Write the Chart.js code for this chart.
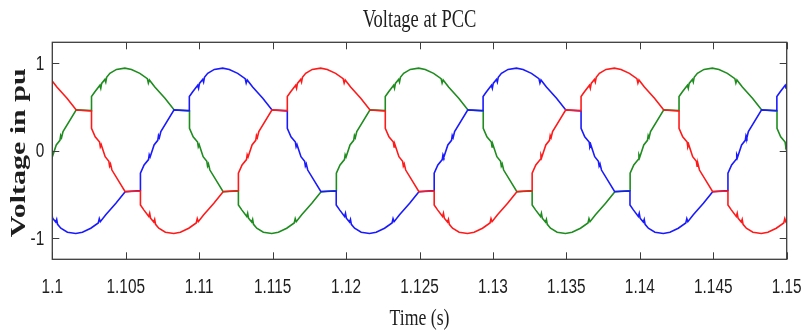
<!DOCTYPE html>
<html>
<head>
<meta charset="utf-8">
<script src="https://cdn.jsdelivr.net/npm/chart.js@4.4.0/dist/chart.umd.min.js"></script>
<style>
  body { margin: 0; background: #fff; }
</style>
</head>
<body>
<canvas id="chart" width="805" height="334"></canvas>
<script>
// tick labels
const xTicks = [1.1, 1.105, 1.11, 1.115, 1.12, 1.125, 1.13, 1.135, 1.14, 1.145, 1.15]
const yTicks = [-1, 0, 1]

// phase a (red), one row per half cycle
const redT = [
  1.09980, 1.09987, 1.09994, 1.10031, 1.10100, 1.10163, 1.10267, 1.10267, 1.10292, 1.10322, 1.10327, 1.10333, 1.10360, 1.10385, 1.10390, 1.10396, 1.10406, 1.10496, 1.10600,
  1.10600, 1.10623, 1.10657, 1.10663, 1.10669, 1.10691, 1.10697, 1.10703, 1.10725, 1.10770, 1.10827, 1.10872, 1.10929, 1.10980, 1.10987, 1.10994, 1.11031, 1.11100, 1.11163, 1.11267, 1.11267, 1.11292, 1.11322, 1.11327, 1.11333, 1.11360, 1.11385, 1.11390, 1.11396, 1.11406, 1.11496, 1.11600,
  1.11600, 1.11623, 1.11657, 1.11663, 1.11669, 1.11691, 1.11697, 1.11703, 1.11725, 1.11770, 1.11827, 1.11872, 1.11929, 1.11980, 1.11987, 1.11994, 1.12031, 1.12100, 1.12163, 1.12267, 1.12267, 1.12292, 1.12322, 1.12327, 1.12333, 1.12360, 1.12385, 1.12390, 1.12396, 1.12406, 1.12496, 1.12600,
  1.12600, 1.12623, 1.12657, 1.12663, 1.12669, 1.12691, 1.12697, 1.12703, 1.12725, 1.12770, 1.12827, 1.12872, 1.12929, 1.12980, 1.12987, 1.12994, 1.13031, 1.13100, 1.13163, 1.13267, 1.13267, 1.13292, 1.13322, 1.13327, 1.13333, 1.13360, 1.13385, 1.13390, 1.13396, 1.13406, 1.13496, 1.13600,
  1.13600, 1.13623, 1.13657, 1.13663, 1.13669, 1.13691, 1.13697, 1.13703, 1.13725, 1.13770, 1.13827, 1.13872, 1.13929, 1.13980, 1.13987, 1.13994, 1.14031, 1.14100, 1.14163, 1.14267, 1.14267, 1.14292, 1.14322, 1.14327, 1.14333, 1.14360, 1.14385, 1.14390, 1.14396, 1.14406, 1.14496, 1.14600,
  1.14600, 1.14623, 1.14657, 1.14663, 1.14669, 1.14691, 1.14697, 1.14703, 1.14725, 1.14770, 1.14827, 1.14872, 1.14929, 1.14980, 1.14987, 1.14994, 1.15031
]
const redV = [
  0.825, 0.775, 0.81, 0.73, 0.60, 0.467, 0.455, 0.257, 0.161, 0.10, 0.045, 0.07, -0.067, -0.12, -0.175, -0.15, -0.22, -0.467, -0.46,
  -0.62, -0.675, -0.75, -0.715, -0.77, -0.815, -0.785, -0.84, -0.885, -0.93, -0.945, -0.93, -0.885, -0.825, -0.775, -0.81, -0.73, -0.60, -0.467, -0.455, -0.257, -0.161, -0.10, -0.045, -0.07, 0.067, 0.12, 0.175, 0.15, 0.22, 0.467, 0.46,
  0.62, 0.675, 0.75, 0.715, 0.77, 0.815, 0.785, 0.84, 0.885, 0.93, 0.945, 0.93, 0.885, 0.825, 0.775, 0.81, 0.73, 0.60, 0.467, 0.455, 0.257, 0.161, 0.10, 0.045, 0.07, -0.067, -0.12, -0.175, -0.15, -0.22, -0.467, -0.46,
  -0.62, -0.675, -0.75, -0.715, -0.77, -0.815, -0.785, -0.84, -0.885, -0.93, -0.945, -0.93, -0.885, -0.825, -0.775, -0.81, -0.73, -0.60, -0.467, -0.455, -0.257, -0.161, -0.10, -0.045, -0.07, 0.067, 0.12, 0.175, 0.15, 0.22, 0.467, 0.46,
  0.62, 0.675, 0.75, 0.715, 0.77, 0.815, 0.785, 0.84, 0.885, 0.93, 0.945, 0.93, 0.885, 0.825, 0.775, 0.81, 0.73, 0.60, 0.467, 0.455, 0.257, 0.161, 0.10, 0.045, 0.07, -0.067, -0.12, -0.175, -0.15, -0.22, -0.467, -0.46,
  -0.62, -0.675, -0.75, -0.715, -0.77, -0.815, -0.785, -0.84, -0.885, -0.93, -0.945, -0.93, -0.885, -0.825, -0.775, -0.81, -0.73
]

// phase b (green)
const greenT = [
  1.09934, 1.09959, 1.09989, 1.09994, 1.10000, 1.10027, 1.10052, 1.10057, 1.10063, 1.10073, 1.10163, 1.10267,
  1.10267, 1.10290, 1.10324, 1.10330, 1.10336, 1.10358, 1.10364, 1.10370, 1.10392, 1.10437, 1.10494, 1.10539, 1.10596, 1.10647, 1.10654, 1.10661, 1.10698, 1.10767, 1.10830, 1.10934, 1.10934, 1.10959, 1.10989, 1.10994, 1.11000, 1.11027, 1.11052, 1.11057, 1.11063, 1.11073, 1.11163, 1.11267,
  1.11267, 1.11290, 1.11324, 1.11330, 1.11336, 1.11358, 1.11364, 1.11370, 1.11392, 1.11437, 1.11494, 1.11539, 1.11596, 1.11647, 1.11654, 1.11661, 1.11698, 1.11767, 1.11830, 1.11934, 1.11934, 1.11959, 1.11989, 1.11994, 1.12000, 1.12027, 1.12052, 1.12057, 1.12063, 1.12073, 1.12163, 1.12267,
  1.12267, 1.12290, 1.12324, 1.12330, 1.12336, 1.12358, 1.12364, 1.12370, 1.12392, 1.12437, 1.12494, 1.12539, 1.12596, 1.12647, 1.12654, 1.12661, 1.12698, 1.12767, 1.12830, 1.12934, 1.12934, 1.12959, 1.12989, 1.12994, 1.13000, 1.13027, 1.13052, 1.13057, 1.13063, 1.13073, 1.13163, 1.13267,
  1.13267, 1.13290, 1.13324, 1.13330, 1.13336, 1.13358, 1.13364, 1.13370, 1.13392, 1.13437, 1.13494, 1.13539, 1.13596, 1.13647, 1.13654, 1.13661, 1.13698, 1.13767, 1.13830, 1.13934, 1.13934, 1.13959, 1.13989, 1.13994, 1.14000, 1.14027, 1.14052, 1.14057, 1.14063, 1.14073, 1.14163, 1.14267,
  1.14267, 1.14290, 1.14324, 1.14330, 1.14336, 1.14358, 1.14364, 1.14370, 1.14392, 1.14437, 1.14494, 1.14539, 1.14596, 1.14647, 1.14654, 1.14661, 1.14698, 1.14767, 1.14830, 1.14934, 1.14934, 1.14959, 1.14989, 1.14994, 1.15000, 1.15027, 1.15052
]
const greenV = [
  -0.257, -0.161, -0.10, -0.045, -0.07, 0.067, 0.12, 0.175, 0.15, 0.22, 0.467, 0.46,
  0.62, 0.675, 0.75, 0.715, 0.77, 0.815, 0.785, 0.84, 0.885, 0.93, 0.945, 0.93, 0.885, 0.825, 0.775, 0.81, 0.73, 0.60, 0.467, 0.455, 0.257, 0.161, 0.10, 0.045, 0.07, -0.067, -0.12, -0.175, -0.15, -0.22, -0.467, -0.46,
  -0.62, -0.675, -0.75, -0.715, -0.77, -0.815, -0.785, -0.84, -0.885, -0.93, -0.945, -0.93, -0.885, -0.825, -0.775, -0.81, -0.73, -0.60, -0.467, -0.455, -0.257, -0.161, -0.10, -0.045, -0.07, 0.067, 0.12, 0.175, 0.15, 0.22, 0.467, 0.46,
  0.62, 0.675, 0.75, 0.715, 0.77, 0.815, 0.785, 0.84, 0.885, 0.93, 0.945, 0.93, 0.885, 0.825, 0.775, 0.81, 0.73, 0.60, 0.467, 0.455, 0.257, 0.161, 0.10, 0.045, 0.07, -0.067, -0.12, -0.175, -0.15, -0.22, -0.467, -0.46,
  -0.62, -0.675, -0.75, -0.715, -0.77, -0.815, -0.785, -0.84, -0.885, -0.93, -0.945, -0.93, -0.885, -0.825, -0.775, -0.81, -0.73, -0.60, -0.467, -0.455, -0.257, -0.161, -0.10, -0.045, -0.07, 0.067, 0.12, 0.175, 0.15, 0.22, 0.467, 0.46,
  0.62, 0.675, 0.75, 0.715, 0.77, 0.815, 0.785, 0.84, 0.885, 0.93, 0.945, 0.93, 0.885, 0.825, 0.775, 0.81, 0.73, 0.60, 0.467, 0.455, 0.257, 0.161, 0.10, 0.045, 0.07, -0.067, -0.12
]

// phase c (blue)
const blueT = [
  1.09956, 1.09990, 1.09996, 1.10002, 1.10024, 1.10030, 1.10036, 1.10058, 1.10103, 1.10160, 1.10205, 1.10262, 1.10313, 1.10320, 1.10327, 1.10364, 1.10433, 1.10496, 1.10600, 1.10600, 1.10625, 1.10655, 1.10660, 1.10666, 1.10693, 1.10718, 1.10723, 1.10729, 1.10739, 1.10829, 1.10933,
  1.10933, 1.10956, 1.10990, 1.10996, 1.11002, 1.11024, 1.11030, 1.11036, 1.11058, 1.11103, 1.11160, 1.11205, 1.11262, 1.11313, 1.11320, 1.11327, 1.11364, 1.11433, 1.11496, 1.11600, 1.11600, 1.11625, 1.11655, 1.11660, 1.11666, 1.11693, 1.11718, 1.11723, 1.11729, 1.11739, 1.11829, 1.11933,
  1.11933, 1.11956, 1.11990, 1.11996, 1.12002, 1.12024, 1.12030, 1.12036, 1.12058, 1.12103, 1.12160, 1.12205, 1.12262, 1.12313, 1.12320, 1.12327, 1.12364, 1.12433, 1.12496, 1.12600, 1.12600, 1.12625, 1.12655, 1.12660, 1.12666, 1.12693, 1.12718, 1.12723, 1.12729, 1.12739, 1.12829, 1.12933,
  1.12933, 1.12956, 1.12990, 1.12996, 1.13002, 1.13024, 1.13030, 1.13036, 1.13058, 1.13103, 1.13160, 1.13205, 1.13262, 1.13313, 1.13320, 1.13327, 1.13364, 1.13433, 1.13496, 1.13600, 1.13600, 1.13625, 1.13655, 1.13660, 1.13666, 1.13693, 1.13718, 1.13723, 1.13729, 1.13739, 1.13829, 1.13933,
  1.13933, 1.13956, 1.13990, 1.13996, 1.14002, 1.14024, 1.14030, 1.14036, 1.14058, 1.14103, 1.14160, 1.14205, 1.14262, 1.14313, 1.14320, 1.14327, 1.14364, 1.14433, 1.14496, 1.14600, 1.14600, 1.14625, 1.14655, 1.14660, 1.14666, 1.14693, 1.14718, 1.14723, 1.14729, 1.14739, 1.14829, 1.14933,
  1.14933, 1.14956, 1.14990, 1.14996, 1.15002, 1.15024, 1.15030
]
const blueV = [
  -0.675, -0.75, -0.715, -0.77, -0.815, -0.785, -0.84, -0.885, -0.93, -0.945, -0.93, -0.885, -0.825, -0.775, -0.81, -0.73, -0.60, -0.467, -0.455, -0.257, -0.161, -0.10, -0.045, -0.07, 0.067, 0.12, 0.175, 0.15, 0.22, 0.467, 0.46,
  0.62, 0.675, 0.75, 0.715, 0.77, 0.815, 0.785, 0.84, 0.885, 0.93, 0.945, 0.93, 0.885, 0.825, 0.775, 0.81, 0.73, 0.60, 0.467, 0.455, 0.257, 0.161, 0.10, 0.045, 0.07, -0.067, -0.12, -0.175, -0.15, -0.22, -0.467, -0.46,
  -0.62, -0.675, -0.75, -0.715, -0.77, -0.815, -0.785, -0.84, -0.885, -0.93, -0.945, -0.93, -0.885, -0.825, -0.775, -0.81, -0.73, -0.60, -0.467, -0.455, -0.257, -0.161, -0.10, -0.045, -0.07, 0.067, 0.12, 0.175, 0.15, 0.22, 0.467, 0.46,
  0.62, 0.675, 0.75, 0.715, 0.77, 0.815, 0.785, 0.84, 0.885, 0.93, 0.945, 0.93, 0.885, 0.825, 0.775, 0.81, 0.73, 0.60, 0.467, 0.455, 0.257, 0.161, 0.10, 0.045, 0.07, -0.067, -0.12, -0.175, -0.15, -0.22, -0.467, -0.46,
  -0.62, -0.675, -0.75, -0.715, -0.77, -0.815, -0.785, -0.84, -0.885, -0.93, -0.945, -0.93, -0.885, -0.825, -0.775, -0.81, -0.73, -0.60, -0.467, -0.455, -0.257, -0.161, -0.10, -0.045, -0.07, 0.067, 0.12, 0.175, 0.15, 0.22, 0.467, 0.46,
  0.62, 0.675, 0.75, 0.715, 0.77, 0.815, 0.785
]

const titleText = 'Voltage at PCC'
const xLabel = 'Time (s)'
const yLabel = 'Voltage in pu'

function pts(ts, vs) {
  return ts.map((t, i) => ({x: t, y: vs[i]}))
}

function fmtX(v) {
  return String(parseFloat(Number(v).toFixed(3)))
}

// text squeezed sideways, the original figure is narrow-looking
function squeezed(ctx, text, x, y, sx, font, align, base) {
  ctx.save()
  ctx.translate(x, y)
  ctx.scale(sx, 1)
  ctx.font = font
  ctx.textAlign = align
  ctx.textBaseline = base
  ctx.fillText(text, 0, 0)
  ctx.restore()
}

// box, inward ticks, tick labels and the serif labels
const framePlugin = {
  id: 'frame',
  afterDraw(chart) {
    const {ctx, chartArea: a, scales: {x, y}} = chart
    ctx.save()
    ctx.strokeStyle = '#3c3c3c'
    ctx.lineWidth = 1
    ctx.beginPath()
    x.ticks.forEach(t => {
      const px = Math.round(x.getPixelForValue(t.value)) + 0.5
      ctx.moveTo(px, a.bottom); ctx.lineTo(px, a.bottom - 7)
      ctx.moveTo(px, a.top); ctx.lineTo(px, a.top + 7)
    })
    y.ticks.forEach(t => {
      const py = Math.round(y.getPixelForValue(t.value)) + 0.5
      ctx.moveTo(a.left, py); ctx.lineTo(a.left + 7, py)
      ctx.moveTo(a.right, py); ctx.lineTo(a.right - 7, py)
    })
    ctx.stroke()
    ctx.lineWidth = 1.3
    ctx.strokeRect(a.left, a.top, a.right - a.left, a.bottom - a.top)

    ctx.fillStyle = '#1e1e1e'
    const sans = '20px "Liberation Sans", Arial, sans-serif'
    x.ticks.forEach(t => {
      squeezed(ctx, fmtX(t.value), x.getPixelForValue(t.value), a.bottom + 28, 0.77, sans, 'center', 'middle')
    })
    y.ticks.forEach(t => {
      squeezed(ctx, String(t.value), a.left - 8, y.getPixelForValue(t.value) + 1, 0.77, sans, 'right', 'middle')
    })

    const cx = (a.left + a.right) / 2
    squeezed(ctx, titleText, cx, 27, 0.74, '25px "Liberation Serif", "DejaVu Serif", serif', 'center', 'alphabetic')
    squeezed(ctx, xLabel, cx, 325, 0.74, '24px "Liberation Serif", "DejaVu Serif", serif', 'center', 'alphabetic')

    ctx.save()
    ctx.translate(25, (a.top + a.bottom) / 2 + 2)
    ctx.rotate(-Math.PI / 2)
    ctx.scale(1.5, 1)
    ctx.font = 'bold 20px "Liberation Serif", "DejaVu Serif", serif'
    ctx.textAlign = 'center'
    ctx.textBaseline = 'alphabetic'
    ctx.fillText(yLabel, 0, 0)
    ctx.restore()

    ctx.restore()
  }
}

new Chart(document.getElementById('chart'), {
  type: 'line',
  data: {
    datasets: [
      {label: 'a', data: pts(redT, redV), borderColor: '#ff1a1a'},
      {label: 'c', data: pts(blueT, blueV), borderColor: '#1a1aff'},
      {label: 'b', data: pts(greenT, greenV), borderColor: '#1f8c1f'}
    ]
  },
  options: {
    responsive: false,
    animation: false,
    devicePixelRatio: 1,
    datasets: {
      line: {borderWidth: 1.6, pointRadius: 0, tension: 0, fill: false}
    },
    layout: {padding: {top: 42.3, right: 18.3, left: 0, bottom: 0}},
    plugins: {legend: {display: false}, tooltip: {enabled: false}, title: {display: false}},
    scales: {
      x: {
        type: 'linear',
        min: 1.1,
        max: 1.15,
        grid: {display: false},
        border: {display: false},
        afterBuildTicks: s => { s.ticks = xTicks.map(v => ({value: v})) },
        afterFit: s => { s.height = 74.7 },
        ticks: {display: false}
      },
      y: {
        min: -1.24,
        max: 1.24,
        grid: {display: false},
        border: {display: false},
        afterBuildTicks: s => { s.ticks = yTicks.map(v => ({value: v})) },
        afterFit: s => { s.width = 52.3 },
        ticks: {display: false}
      }
    }
  },
  plugins: [framePlugin]
})
</script>
</body>
</html>
